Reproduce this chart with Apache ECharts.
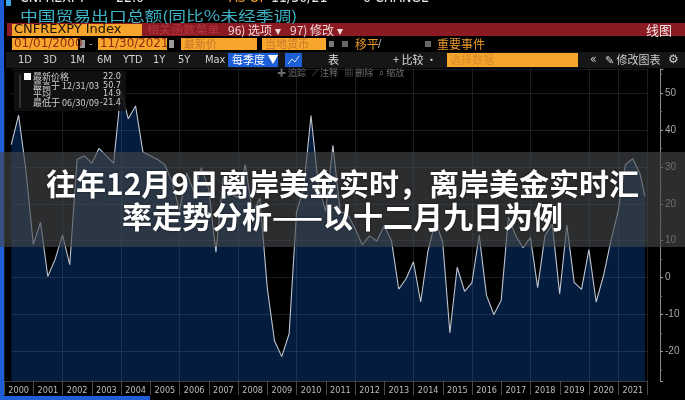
<!DOCTYPE html>
<html><head><meta charset="utf-8">
<script src="https://cdn.jsdelivr.net/npm/echarts@6/dist/echarts.min.js"></script>
<style>html,body{margin:0;padding:0;background:#000;overflow:hidden}#c{width:685px;height:400px}</style>
</head><body><div id="c"></div>
<script>
// ---- data ----
const quarterEnds = [
'2000-03-31','2000-06-30','2000-09-30','2000-12-31',
'2001-03-31','2001-06-30','2001-09-30','2001-12-31',
'2002-03-31','2002-06-30','2002-09-30','2002-12-31',
'2003-03-31','2003-06-30','2003-09-30','2003-12-31',
'2004-03-31','2004-06-30','2004-09-30','2004-12-31',
'2005-03-31','2005-06-30','2005-09-30','2005-12-31',
'2006-03-31','2006-06-30','2006-09-30','2006-12-31',
'2007-03-31','2007-06-30','2007-09-30','2007-12-31',
'2008-03-31','2008-06-30','2008-09-30','2008-12-31',
'2009-03-31','2009-06-30','2009-09-30','2009-12-31',
'2010-03-31','2010-06-30','2010-09-30','2010-12-31',
'2011-03-31','2011-06-30','2011-09-30','2011-12-31',
'2012-03-31','2012-06-30','2012-09-30','2012-12-31',
'2013-03-31','2013-06-30','2013-09-30','2013-12-31',
'2014-03-31','2014-06-30','2014-09-30','2014-12-31',
'2015-03-31','2015-06-30','2015-09-30','2015-12-31',
'2016-03-31','2016-06-30','2016-09-30','2016-12-31',
'2017-03-31','2017-06-30','2017-09-30','2017-12-31',
'2018-03-31','2018-06-30','2018-09-30','2018-12-31',
'2019-03-31','2019-06-30','2019-09-30','2019-12-31',
'2020-03-31','2020-06-30','2020-09-30','2020-12-31',
'2021-03-31','2021-06-30','2021-09-30','2021-11-30'];
const exportYoY = [
36.0, 44.0, 29.0, 9.0,
15.0, 0.3, 5.0, 11.5,
3.5, 32.0, 33.0, 31.0,
35.0, 33.0, 31.0, 50.7,
43.0, 46.5, 34.0, 33.0,
32.0, 30.6, 26.0, 18.2,
28.3, 23.2, 29.8, 24.0,
6.9, 27.1, 22.8, 21.7,
30.6, 17.6, 21.5, -2.8,
-17.1, -21.4, -15.2, 17.7,
24.3, 43.9, 25.1, 17.9,
35.8, 17.9, 17.1, 13.4,
8.9, 11.3, 9.9, 14.1,
10.0, -3.1, -0.3, 4.3,
-6.6, 7.2, 15.3, 9.7,
-15.0, 2.8, -3.7, -1.4,
11.5, -4.8, -10.0, -6.1,
16.4, 11.3, 8.1, 10.9,
-2.7, 11.3, 14.5, -4.4,
14.2, -1.3, -3.2, 7.6,
-6.6, 0.5, 9.9, 18.1,
30.6, 32.2, 28.1, 22.0];
const yearLabels = ['2000','2001','2002','2003','2004','2005','2006','2007','2008','2009','2010',
  '2011','2012','2013','2014','2015','2016','2017','2018','2019','2020','2021'];
const legendRows = ['最新价格','最高于 12/31/03','平均','最低于 06/30/09'];
const legendValues = ['22.0','50.7','14.9','-21.4'];
const rangeButtons = ['1D','3D','1M','6M','YTD','1Y','5Y','Max'];
const titleLines = ['往年12月9日离岸美金实时，离岸美金实时汇','率走势分析——以十二月九日为例'];

// ---- helpers for the terminal chrome ----
const CJK = '"Noto Sans CJK SC","Noto Sans",sans-serif';
const LAT = '"Liberation Sans Narrow","DejaVu Sans Condensed","Liberation Sans",sans-serif';
function R(x,y,w,h,fill,z){return {type:'rect',silent:true,z:z||20,shape:{x:x,y:y,width:w,height:h},style:{fill:fill}};}
function T(x,y,text,fill,font,o){o=o||{};return {type:'text',silent:true,z:o.z||21,x:x,y:y,scaleX:o.sx||1,
  style:{text:text,fill:fill,font:font,textAlign:o.align||'left',textVerticalAlign:'middle',align:o.align||'left',verticalAlign:'middle',
  textShadowColor:o.sh||'transparent',textShadowBlur:o.sh?3:0}};}
function L(pts,stroke,z,w){return {type:'polyline',silent:true,z:z||21,shape:{points:pts},style:{stroke:stroke,lineWidth:w||1,fill:null}};}

const ORANGE='#f6a52d', RED='#8c1a23', BLUE='#1e5fd8';
const g = [];
// window border
g.push(R(0,0,4,400,BLUE,30));
g.push(R(0,396,150,4,BLUE,30));
g.push(R(6,0,5,6,'#3aa6e6'));
// top (cut-off) security line
g.push(T(20,-2,'CNFREXPY','#e8e8e8','14px '+LAT));
g.push(T(116,-2,'22.0','#e8e8e8','14px '+LAT));
g.push(T(229,-2,'AS OF','#e89a2a','14px '+LAT));
g.push(T(271,-2,'11/30/21','#e8e8e8','14px '+LAT));
g.push(T(363,-2,'0 CHANGE','#e8e8e8','14px '+LAT));
// title
g.push(T(20,16,'中国贸易出口总额(同比%未经季调)','#3db4c6','14px '+CJK,{sx:1.27}));
// red bar
g.push(R(7,23,678,13,RED));
g.push(R(12,24,130,12,ORANGE));
g.push(T(14,30,'CNFREXPY Index','#1a1208','12px '+LAT,{sx:1.2}));
g.push(T(147,30,'相关函数菜单','#b4373f','11px '+CJK,{sx:1.1}));
g.push(T(228,30,'96) 选项 ▾','#f0dada','12px '+CJK));
g.push(T(290,30,'97) 修改 ▾','#f0dada','12px '+CJK));
g.push(T(646,30,'线图','#f3e6e6','13px '+CJK));
// date row
g.push(R(12,38,66,12,ORANGE)); g.push(T(14,44,'01/01/2000','#8e2a12','12px '+LAT,{sx:1.1}));
g.push(R(80,40,5,8,'#9a9a9a')); g.push(T(89,44,'-','#aaa','11px '+LAT));
g.push(R(98,38,69,12,ORANGE)); g.push(T(100,44,'11/30/2021','#8e2a12','12px '+LAT,{sx:1.1}));
g.push(R(169,40,5,8,'#9a9a9a'));
g.push(R(181,38,76,12,ORANGE)); g.push(T(184,44,'最新价','#c9762a','11px '+CJK));
g.push(R(262,38,64,12,ORANGE)); g.push(T(265,44,'当地货币','#c9762a','11px '+CJK));
g.push(R(329,41,5,6,'#777')); g.push(R(342,41,6,6,'#666'));
g.push(T(355,44,'移平','#e8962a','12px '+CJK)); g.push(T(378,44,'/','#bbb','11px '+LAT));
g.push(R(425,41,6,6,'#666')); g.push(T(437,44,'重要事件','#e8962a','12px '+CJK));
// toolbar row
g.push(R(6,52,679,16,'#161616'));
const btnX=[18,43,70,97,123,153,178,205];
rangeButtons.forEach(function(b,i){g.push(T(btnX[i],60,b,'#d2d2d2','11px '+LAT));});
g.push(R(228,53,50,14,BLUE)); g.push(T(232,60,'每季度 ▼','#ffffff','11px '+CJK));
g.push(R(285,53,17,14,BLUE)); g.push(L([[288,64],[292,59],[295,62],[299,56]],'#cfe0ff',22));
g.push(T(328,60,'表','#e0e0e0','11px '+CJK));
g.push(T(393,60,'+ 比较 ·','#d8d8d8','11px '+CJK));
g.push(R(447,53,131,14,ORANGE)); g.push(T(450,60,'选择数据','#d88a2a','11px '+CJK));
g.push(T(590,60,'«','#cfcfcf','12px '+LAT));
g.push(T(605,60,'✎ 修改图表','#cfcfcf','11px '+CJK));
g.push(T(668,60,'⚙','#cfcfcf','12px "DejaVu Sans"'));
// chart tool row
g.push(T(277,73,'✚ 追踪   ⟋ 注释   ▦ 删除   ⌕ 缩放','#6e6e6e','9px '+CJK));
// legend box
g.push(R(14,71,112,40,'rgba(18,18,18,0.9)'));
g.push(L([[20,75],[20,108]],'#555',22));
g.push(R(24,73,7,7,'#ffffff',22));
const legY=[77,86,94,103];
legendRows.forEach(function(t,i){
  g.push(T(33,legY[i],t,'#cfcfcf','9px '+CJK,{z:22}));
  g.push(T(121,legY[i],legendValues[i],'#cfcfcf','9px '+LAT,{z:22,align:'right'}));
});
// title overlay band
g.push(R(0,152,685,95,'rgba(70,72,76,0.62)',50));
g.push(T(342.5,184,titleLines[0],'#ffffff','bold 30px '+CJK,{z:51,align:'center',sh:'rgba(0,0,0,0.5)'}));
g.push(T(342.5,217,titleLines[1],'#ffffff','bold 30px '+CJK,{z:51,align:'center',sh:'rgba(0,0,0,0.5)'}));

const seriesData = quarterEnds.map(function(d,i){return [d, exportYoY[i]];});
const GRID = 'rgba(125,140,165,0.2)';

const chart = echarts.init(document.getElementById('c'), null, {renderer:'canvas'});
chart.setOption({
  backgroundColor:'#000',
  animation:false,
  grid:[
    {left:11.3, right:37.5, top:69, bottom:19},
    {left:4, right:37.5, top:69, bottom:19}
  ],
  xAxis:[
    {type:'time', gridIndex:0, min:+new Date('2000-03-31'), max:+new Date('2022-01-01'), show:false},
    {type:'category', gridIndex:1, data:yearLabels, boundaryGap:true, z:3,
     axisLine:{show:true, lineStyle:{color:'#3c3c3c'}},
     axisTick:{show:true, length:14, interval:0, lineStyle:{color:'#4a4a4a'}},
     axisLabel:{color:'#bdbdbd', fontSize:9, margin:5, interval:0, fontFamily:'"Liberation Sans Narrow","DejaVu Sans Condensed",sans-serif'},
     splitLine:{show:true, interval:1, lineStyle:{color:GRID}}}
  ],
  yAxis:[
    {type:'value', gridIndex:0, position:'right', offset:12.5, min:-28, max:56.5, splitNumber:8, z:3,
     axisLine:{show:true, lineStyle:{color:'#8a8a8a'}},
     axisTick:{show:true, length:3, lineStyle:{color:'#9a9a9a'}},
     minorTick:{show:true, splitNumber:2, length:2, lineStyle:{color:'#777'}},
     axisLabel:{color:'#a8a8a8', fontSize:10, margin:5, showMinLabel:false, showMaxLabel:false, fontFamily:'"Liberation Sans",sans-serif'},
     splitLine:{show:true, lineStyle:{color:GRID}}},
    {type:'value', gridIndex:1, show:false, min:0, max:1}
  ],
  series:[
    {type:'line', xAxisIndex:0, yAxisIndex:0, data:seriesData, showSymbol:false, silent:true, z:1,
     lineStyle:{width:0}, areaStyle:{color:'#041c3d', opacity:1, origin:'start'}},
    {type:'line', xAxisIndex:0, yAxisIndex:0, data:seriesData, showSymbol:false, silent:true, z:5,
     lineStyle:{color:'#bfc5cf', width:1.1},
     markLine:{silent:true, symbol:'none', lineStyle:{opacity:0},
       data:[{yAxis:exportYoY[exportYoY.length-1]}],
       label:{show:true, position:'end', distance:14, formatter:function(p){return p.value.toFixed(1);},
         color:'#e0e4ea', fontSize:9, backgroundColor:'#4c545f', padding:[1,2]}}}
  ],
  graphic:{elements:g}
});
</script>
</body></html>
